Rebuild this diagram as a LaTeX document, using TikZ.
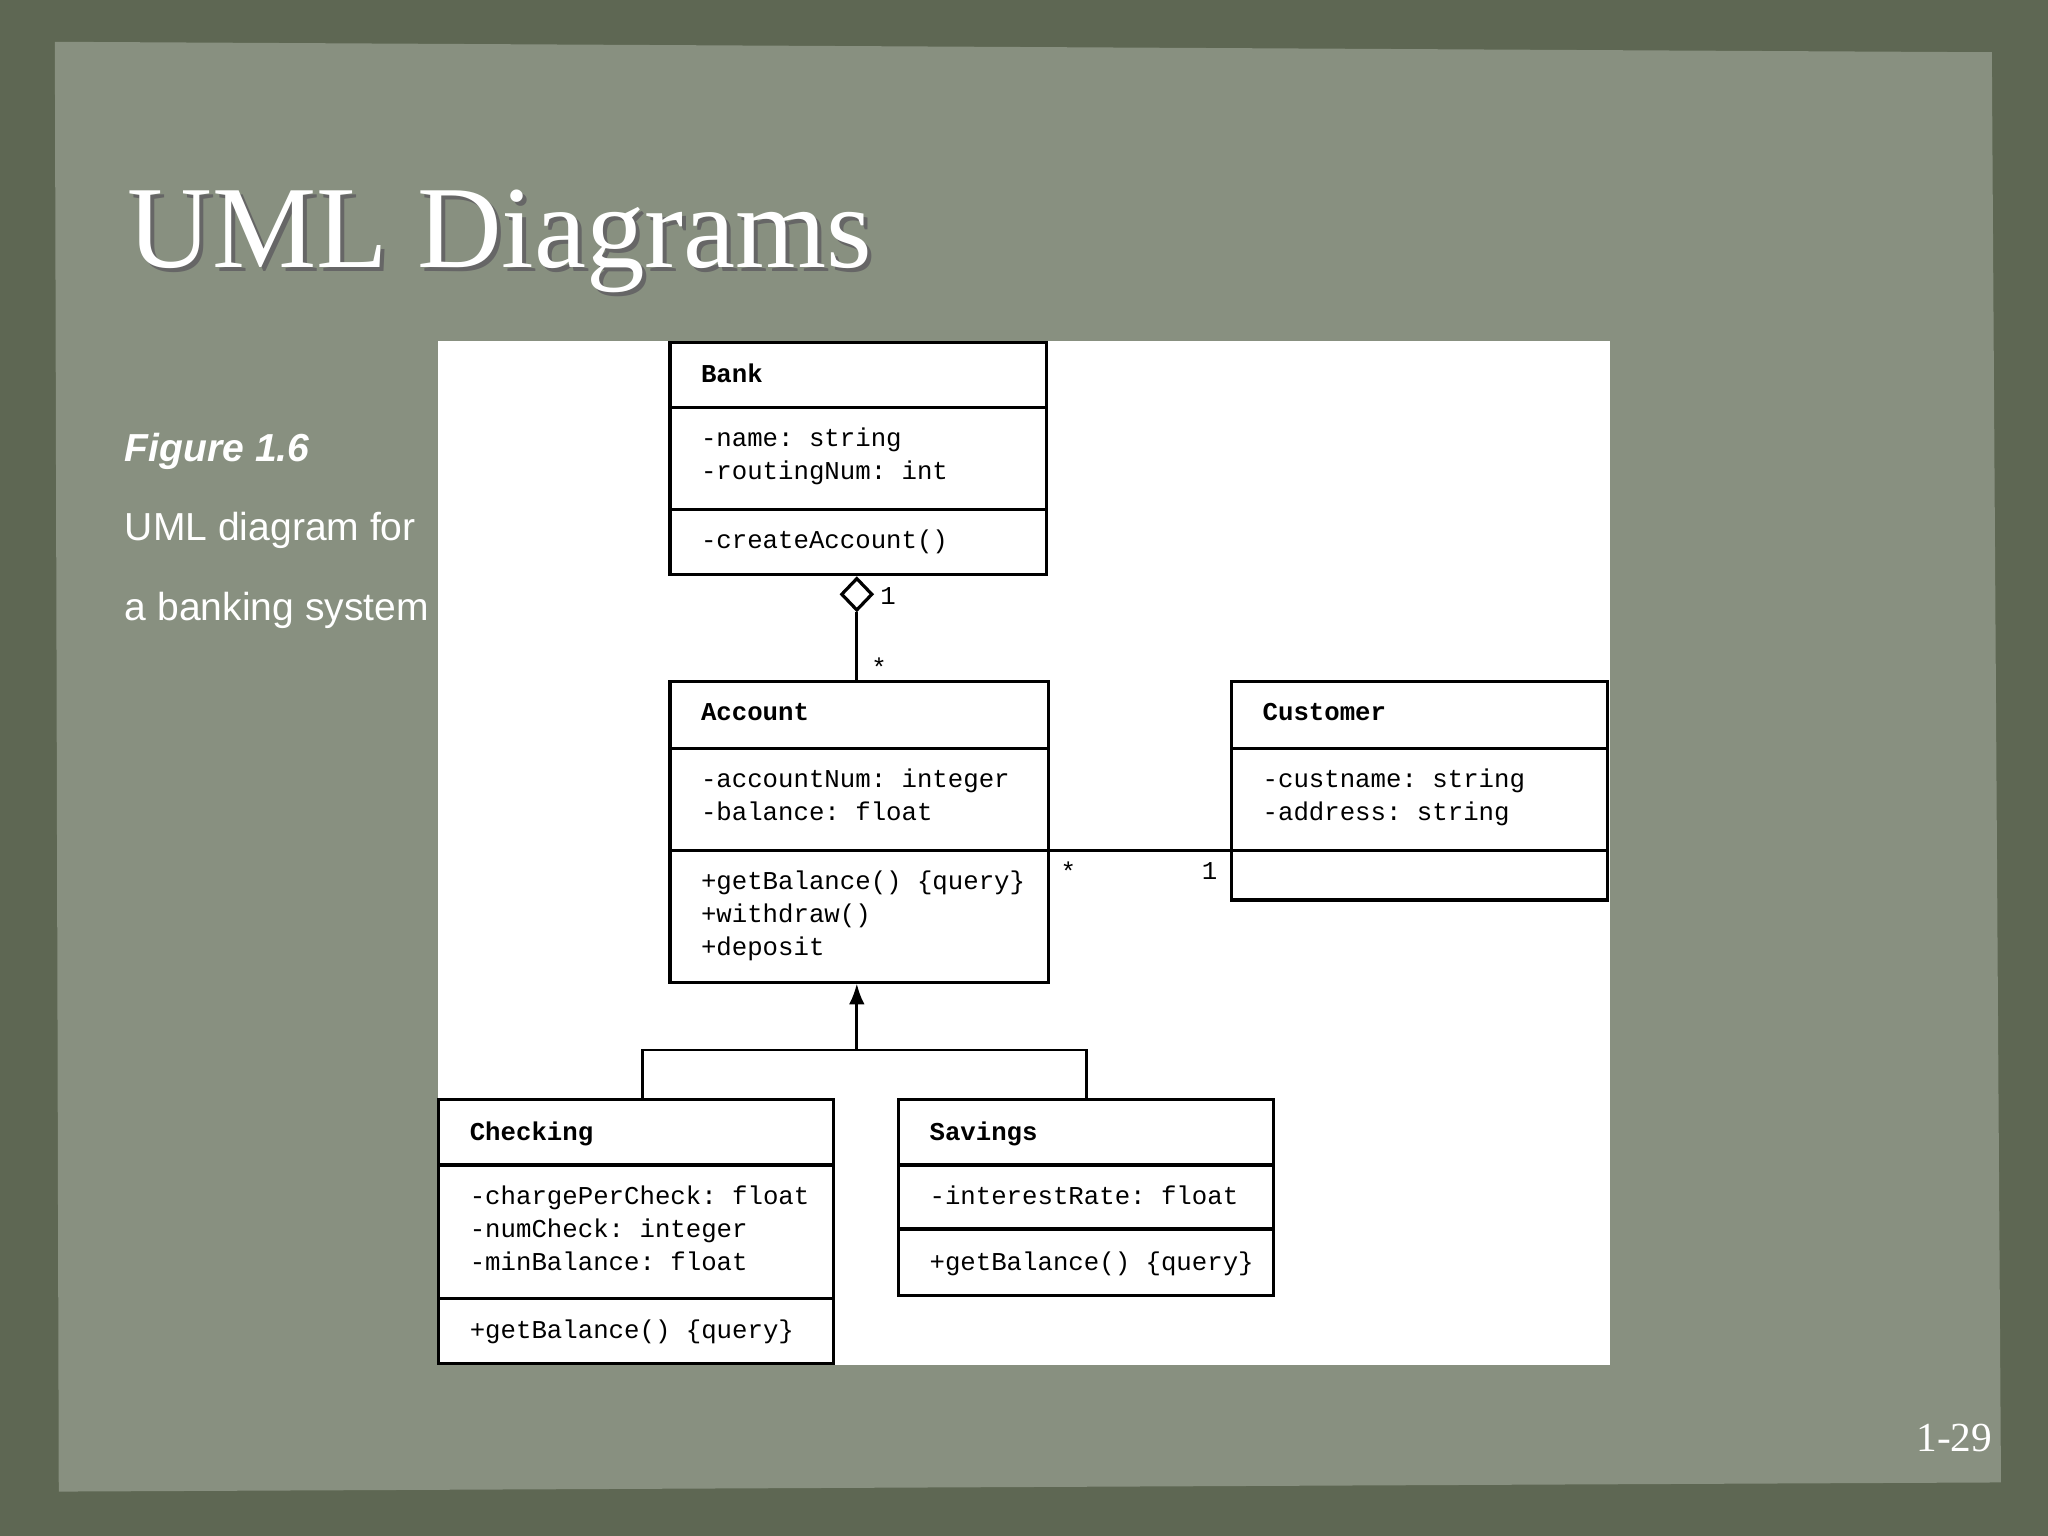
\documentclass[tikz,border=0pt]{standalone}
\usepackage{fontspec}
\setmainfont{Liberation Serif}
\setsansfont{Liberation Sans}
\setmonofont{Liberation Mono}
\usetikzlibrary{positioning,arrows.meta,shapes.geometric}
\definecolor{frame}{HTML}{5E6753}
\definecolor{slide}{HTML}{889080}
\tikzset{
    umlbox/.style={draw, line width=0.7pt},
    umltxt/.style={anchor=north west, inner sep=0pt, font=\ttfamily\fontsize{5.6}{7.2}\selectfont, align=left},
    umlhead/.style={umltxt, font=\ttfamily\bfseries\fontsize{5.6}{7.2}\selectfont},
    mult/.style={font=\ttfamily\fontsize{5.6}{7}\selectfont, inner sep=0pt},
    sidetxt/.style={anchor=base west, inner sep=0pt, text=white, font=\sffamily\fontsize{8.5}{10}\selectfont}
}
\begin{document}
\begin{tikzpicture}[x=0.01cm, y=-0.01cm]
                    % Slide
                    \fill[frame] (0, 0) rectangle (1568, 1176);
                    \fill[slide] (42, 32) -- (1525, 40) -- (1532, 1135) -- (45, 1142) -- cycle;
                    \node[anchor=base west, inner sep=0pt, text=black!60, font=\fontsize{25.5}{30}\selectfont] at (100, 208) {UML Diagrams};
                    \node[anchor=base west, inner sep=0pt, text=white, font=\fontsize{25.5}{30}\selectfont] at (97, 205) {UML Diagrams};
                    \node[sidetxt, font=\sffamily\bfseries\itshape\fontsize{8.5}{10}\selectfont] at (95, 353) {Figure 1.6};
                    \node[sidetxt] at (95, 414) {UML diagram for};
                    \node[sidetxt] at (95, 475) {a banking system};
                    \node[anchor=base east, inner sep=0pt, text=white, font=\fontsize{9}{10}\selectfont] at (1526, 1111) {1-29};
                    % Panel
                    \fill[white] (335, 261) rectangle (1233, 1045);
                    % Bank
                    \draw[umlbox] (513, 262) rectangle (801, 440);
                    \draw[umlbox] (513, 312) -- (801, 312);
                    \draw[umlbox] (513, 390) -- (801, 390);
                    \node[umlhead] (bank) at (536, 278) {Bank};
                    \node[umltxt] at (536, 327) {-name: string\\-routingNum: int};
                    \node[umltxt] at (536, 405) {-createAccount()};
                    % Account
                    \draw[umlbox] (513, 522) rectangle (803, 752);
                    \draw[umlbox] (513, 573) -- (803, 573);
                    \draw[umlbox] (513, 651) -- (803, 651);
                    \node[umlhead] (account) at (536, 538) {Account};
                    \node[umltxt] at (536, 588) {-accountNum: integer\\-balance: float};
                    \node[umltxt] at (536, 666) {+getBalance() \{query\}\\+withdraw()\\+deposit};
                    % Customer
                    \draw[umlbox] (943, 522) rectangle (1231, 689);
                    \draw[umlbox] (943, 573) -- (1231, 573);
                    \draw[umlbox] (943, 651) -- (1231, 651);
                    \node[umlhead] (customer) at (966, 538) {Customer};
                    \node[umltxt] at (966, 588) {-custname: string\\-address: string};
                    % Checking
                    \draw[umlbox] (336, 842) rectangle (638, 1044);
                    \draw[umlbox] (336, 892) -- (638, 892);
                    \draw[umlbox] (336, 994) -- (638, 994);
                    \node[umlhead] (checking) at (359, 858) {Checking};
                    \node[umltxt] at (359, 907) {-chargePerCheck: float\\-numCheck: integer\\-minBalance: float};
                    \node[umltxt] at (359, 1010) {+getBalance() \{query\}};
                    % Savings
                    \draw[umlbox] (688, 842) rectangle (975, 992);
                    \draw[umlbox] (688, 892) -- (975, 892);
                    \draw[umlbox] (688, 941) -- (975, 941);
                    \node[umlhead] (savings) at (711, 858) {Savings};
                    \node[umltxt] at (711, 907) {-interestRate: float};
                    \node[umltxt] at (711, 958) {+getBalance() \{query\}};
                    % Aggregation
                    \node[draw, diamond, fill=white, line width=0.7pt, minimum width=0.24cm, minimum height=0.25cm, inner sep=0pt] (agg) at (656, 455) {};
                    \draw[line width=0.6pt] (agg.south) -- (656, 522);
                    \node[mult] at (680, 456) {1};
                    \node[mult] at (673, 511) {*};
                    % Association
                    \draw[line width=0.6pt] (803, 651) -- (943, 651);
                    \node[mult] at (818, 667) {*};
                    \node[mult] at (926, 667) {1};
                    % Generalization
                    \draw[line width=0.6pt, -{Latex[length=0.16cm, width=0.12cm]}] (656, 804) -- (656, 753);
                    \draw[line width=0.6pt] (492, 842) -- (492, 804) -- (832, 804) -- (832, 842);
                \end{tikzpicture}
\end{document}
